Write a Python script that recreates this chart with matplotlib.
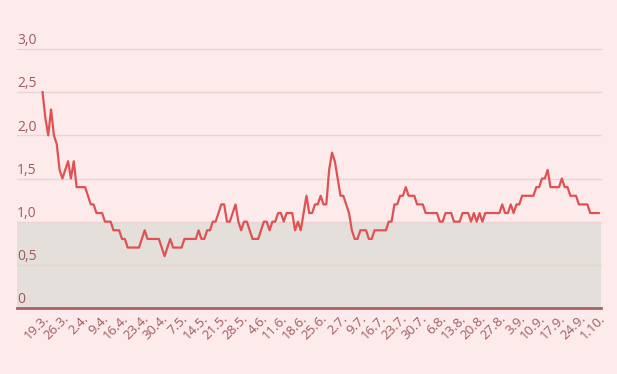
import datetime as dt
import matplotlib
matplotlib.use('Agg')
import matplotlib.pyplot as plt

# daily values, 19.3. .. 1.10.
start = dt.date(2020, 3, 19)
values = [
    2.5, 2.2, 2.0, 2.3, 2.0, 1.9, 1.6, 1.5, 1.6, 1.7,
    1.5, 1.7, 1.4, 1.4, 1.4, 1.4, 1.3, 1.2, 1.2, 1.1,
    1.1, 1.1, 1.0, 1.0, 1.0, 0.9, 0.9, 0.9, 0.8, 0.8,
    0.7, 0.7, 0.7, 0.7, 0.7, 0.8, 0.9, 0.8, 0.8, 0.8,
    0.8, 0.8, 0.7, 0.6, 0.7, 0.8, 0.7, 0.7, 0.7, 0.7,
    0.8, 0.8, 0.8, 0.8, 0.8, 0.9, 0.8, 0.8, 0.9, 0.9,
    1.0, 1.0, 1.1, 1.2, 1.2, 1.0, 1.0, 1.1, 1.2, 1.0,
    0.9, 1.0, 1.0, 0.9, 0.8, 0.8, 0.8, 0.9, 1.0, 1.0,
    0.9, 1.0, 1.0, 1.1, 1.1, 1.0, 1.1, 1.1, 1.1, 0.9,
    1.0, 0.9, 1.1, 1.3, 1.1, 1.1, 1.2, 1.2, 1.3, 1.2,
    1.2, 1.6, 1.8, 1.7, 1.5, 1.3, 1.3, 1.2, 1.1, 0.9,
    0.8, 0.8, 0.9, 0.9, 0.9, 0.8, 0.8, 0.9, 0.9, 0.9,
    0.9, 0.9, 1.0, 1.0, 1.2, 1.2, 1.3, 1.3, 1.4, 1.3,
    1.3, 1.3, 1.2, 1.2, 1.2, 1.1, 1.1, 1.1, 1.1, 1.1,
    1.0, 1.0, 1.1, 1.1, 1.1, 1.0, 1.0, 1.0, 1.1, 1.1,
    1.1, 1.0, 1.1, 1.0, 1.1, 1.0, 1.1, 1.1, 1.1, 1.1,
    1.1, 1.1, 1.2, 1.1, 1.1, 1.2, 1.1, 1.2, 1.2, 1.3,
    1.3, 1.3, 1.3, 1.3, 1.4, 1.4, 1.5, 1.5, 1.6, 1.4,
    1.4, 1.4, 1.4, 1.5, 1.4, 1.4, 1.3, 1.3, 1.3, 1.2,
    1.2, 1.2, 1.2, 1.1, 1.1, 1.1, 1.1,
]
days = list(range(len(values)))
tick_days = list(range(0, len(values), 7))
tick_labels = []
for d in tick_days:
    date = start + dt.timedelta(days=d)
    tick_labels.append(f'{date.day}.{date.month}.')
y_ticks = [0, 0.5, 1.0, 1.5, 2.0, 2.5, 3.0]
y_labels = ['0', '0,5', '1,0', '1,5', '2,0', '2,5', '3,0']

bg = '#fdebeb'
text_col = '#a05a5c'
plt.rcParams['font.family'] = ['Open Sans', 'DejaVu Sans']

fig = plt.figure(figsize=(6.17, 3.74), dpi=100, facecolor=bg)
ax = fig.add_axes([17 / 617, 66 / 374, 584 / 617, 259 / 374])
ax.set_facecolor(bg)

ax.set_xlim(-9.0, len(values) - 0.2)
ax.set_ylim(0, 3.0)

ax.axhspan(0, 1.0, color='#e4dfda', zorder=0, lw=0)
for y in y_ticks[1:]:
    ax.axhline(y, color='#ecd3d3', lw=1, zorder=1, clip_on=False)
ax.axhline(0, color='#a86262', lw=2, zorder=3, clip_on=False)

ax.plot(days, values, color='#e05252', lw=1.6, zorder=4)

for y, lab in zip(y_ticks, y_labels):
    ax.annotate(lab, xy=(0, y), xycoords=('axes fraction', 'data'),
                xytext=(0, 0.5), textcoords='offset points',
                ha='left', va='bottom', fontsize=10, color=text_col)

ax.set_yticks([])
ax.set_xticks(tick_days)
ax.set_xticklabels(tick_labels, rotation=45, ha='right', va='top',
                   rotation_mode='anchor', fontsize=9.5, color=text_col)
ax.tick_params(axis='x', length=0, pad=3)
for s in ax.spines.values():
    s.set_visible(False)

fig.savefig('out.png', dpi=100, facecolor=bg)
